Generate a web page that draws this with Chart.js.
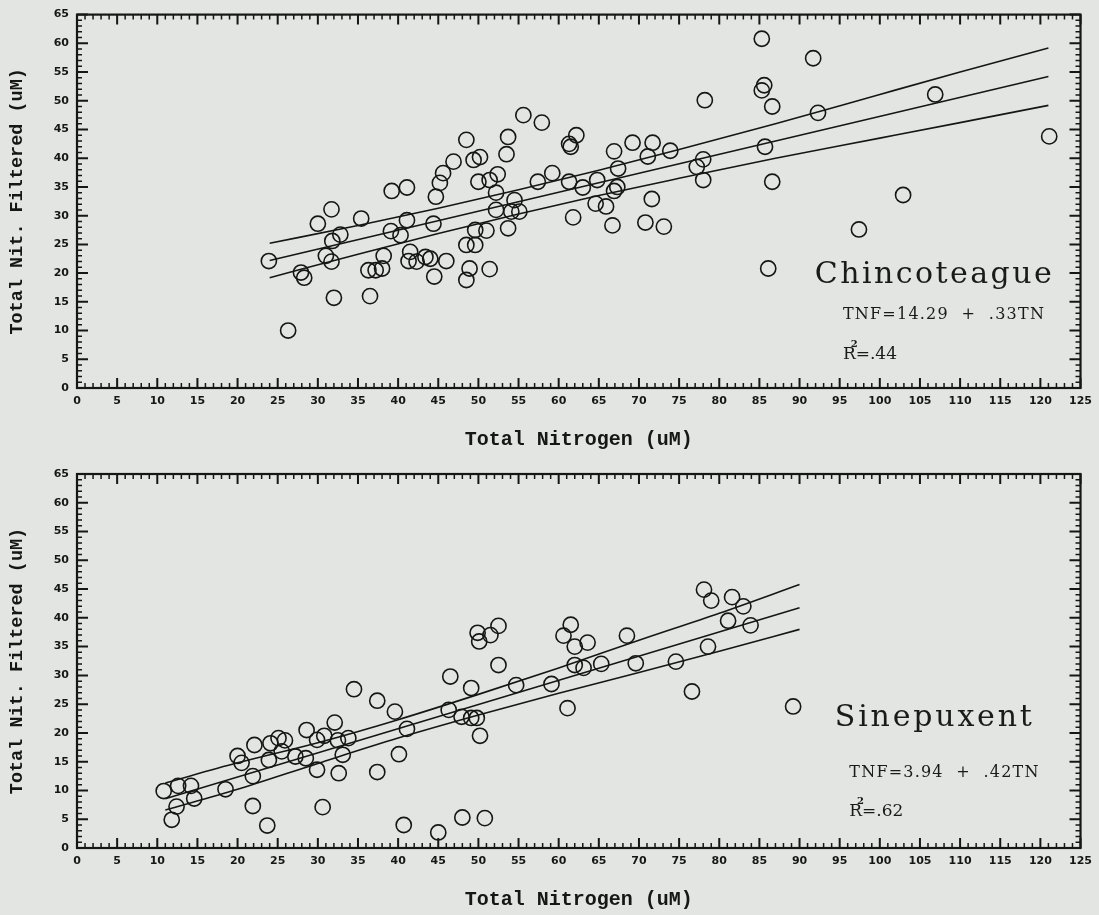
<!DOCTYPE html>
<html>
<head>
<meta charset="utf-8">
<script src="https://cdn.jsdelivr.net/npm/chart.js@4.4.1/dist/chart.umd.min.js"></script>
<style>
  html, body { margin: 0; padding: 0; background: #e3e5e2; }
  canvas { display: block; }
</style>
</head>
<body>
<canvas id="chinco" width="1099" height="457"></canvas>
<canvas id="sinep" width="1099" height="458"></canvas>
<script>
// ===== CHINCOTEAGUE SAMPLES (uM) =====
const chincoTN = [23.9, 26.3, 27.9, 28.3, 30.0, 31.7, 31.0, 31.7, 31.8, 32.8, 32.0, 35.4, 36.5, 36.3, 37.2, 38.0,
  38.2, 39.1, 39.2, 41.1, 41.1, 40.3, 44.4, 41.5, 41.3, 42.3, 43.4, 44.0, 44.5, 46.0, 48.5, 48.9, 51.4, 48.5,
  49.6, 49.6, 51.0, 53.7, 52.2, 54.1, 55.1, 44.7, 45.2, 45.6, 46.9, 48.5, 49.4, 50.2, 50.0, 51.4, 52.4, 52.2,
  53.7, 53.5, 54.5, 55.6, 57.9, 57.4, 59.2, 61.3, 62.2, 61.5, 61.3, 63.0, 61.8, 64.8, 64.6, 65.9, 66.7, 66.9,
  67.4, 67.3, 66.9, 69.2, 71.7, 71.1, 73.9, 71.6, 70.8, 73.1, 77.2, 78.0, 78.0, 78.2, 85.3, 85.6, 85.3, 86.6,
  85.7, 86.6, 86.1, 91.7, 92.3, 106.9, 102.9, 97.4, 121.1];
const chincoTNF = [22.1, 10.0, 20.1, 19.2, 28.6, 31.1, 23.0, 22.0, 25.6, 26.7, 15.7, 29.5, 16.0, 20.5, 20.5, 20.8,
  23.0, 27.3, 34.3, 34.9, 29.2, 26.6, 28.6, 23.7, 22.1, 22.0, 22.8, 22.5, 19.4, 22.1, 18.8, 20.8, 20.7, 24.9,
  24.9, 27.5, 27.4, 27.8, 31.0, 30.7, 30.7, 33.3, 35.7, 37.4, 39.4, 43.2, 39.7, 40.2, 35.9, 36.2, 37.2, 34.0,
  43.7, 40.7, 32.7, 47.5, 46.2, 35.9, 37.4, 42.5, 44.0, 42.0, 35.9, 34.9, 29.7, 36.2, 32.1, 31.6, 28.3, 41.2,
  38.2, 35.0, 34.3, 42.7, 42.7, 40.3, 41.3, 32.9, 28.8, 28.1, 38.5, 39.8, 36.2, 50.1, 60.8, 52.7, 51.8, 49.0,
  42.0, 35.9, 20.8, 57.4, 47.9, 51.1, 33.6, 27.6, 43.8];
const chincoFit = { intercept: 14.29, slope: 0.33, r2: 0.44, from: 24, to: 121 };
const chincoBandX = [24, 35, 45, 55, 65, 75, 87, 100, 110, 121];
const chincoBandHi = [25.2, 28.3, 31.3, 34.5, 37.9, 41.5, 46.0, 51.1, 55.0, 59.2];
const chincoBandLo = [19.2, 23.3, 26.9, 30.3, 33.5, 36.5, 40.0, 43.5, 46.2, 49.2];

// ===== SINEPUXENT SAMPLES (uM) =====
const sinepTN = [10.8, 12.6, 14.2, 12.4, 11.8, 14.6, 18.5, 20.0, 20.5, 22.1, 21.9, 21.9, 23.7, 23.9, 24.1, 25.1,
  25.9, 25.5, 27.2, 28.5, 28.6, 29.9, 30.8, 29.9, 30.6, 32.1, 32.5, 33.8, 33.1, 32.6, 34.5, 37.4, 37.4, 39.6,
  40.1, 41.1, 40.7, 45.0, 46.5, 46.3, 47.9, 49.1, 49.1, 49.8, 50.2, 48.0, 50.8, 52.5, 54.7, 59.1, 61.1, 62.0,
  63.1, 65.3, 69.6, 74.6, 76.6, 49.9, 50.1, 51.5, 52.5, 61.5, 60.6, 63.6, 62.0, 68.5, 78.1, 79.0, 81.6, 83.0,
  81.1, 83.9, 78.6, 89.2];
const sinepTNF = [9.9, 10.8, 10.8, 7.2, 4.9, 8.6, 10.2, 16.0, 14.8, 17.9, 12.5, 7.3, 3.9, 15.3, 18.2, 19.1,
  18.7, 16.8, 15.9, 15.6, 20.5, 18.8, 19.5, 13.6, 7.1, 21.8, 18.7, 19.1, 16.2, 13.0, 27.6, 25.6, 13.2, 23.7,
  16.3, 20.7, 4.0, 2.7, 29.8, 24.0, 22.8, 27.8, 22.6, 22.6, 19.5, 5.3, 5.2, 31.8, 28.3, 28.5, 24.3, 31.8,
  31.3, 32.0, 32.1, 32.4, 27.2, 37.4, 35.9, 37.0, 38.6, 38.8, 36.9, 35.7, 35.0, 36.9, 44.9, 43.0, 43.6, 42.0,
  39.5, 38.7, 35.0, 24.6];
const sinepFit = { intercept: 3.94, slope: 0.42, r2: 0.62, from: 11, to: 90 };
const sinepBandX = [11, 20, 30, 40, 50, 60, 70, 80, 90];
const sinepBandHi = [11.3, 14.8, 18.3, 22.3, 26.7, 31.3, 36.1, 40.8, 45.8];
const sinepBandLo = [6.6, 10.2, 14.7, 19.1, 23.1, 26.9, 30.5, 34.2, 38.0];

const xRange = [0, 125];
const yRange = [0, 65];
const tickStep = 5;

const INK = "#161616";
const TICK_FONT = { family: "DejaVu Sans", size: 11, weight: "bold" };

// frame with inward major/minor ticks on all four sides
const frameTicks = {
  id: "frameTicks",
  afterDatasetsDraw(chart) {
    const { ctx, chartArea: a, scales: { x, y } } = chart;
    ctx.save();
    ctx.strokeStyle = INK;
    ctx.lineCap = "butt";
    for (let v = x.min; v <= x.max; v++) {
      const px = x.getPixelForValue(v);
      const major = v % tickStep === 0;
      const len = major ? 10 : 5;
      ctx.lineWidth = major ? 2 : 1.5;
      ctx.beginPath();
      ctx.moveTo(px, a.bottom); ctx.lineTo(px, a.bottom - len);
      ctx.moveTo(px, a.top); ctx.lineTo(px, a.top + len);
      ctx.stroke();
    }
    for (let v = y.min; v <= y.max; v++) {
      const py = y.getPixelForValue(v);
      const major = v % tickStep === 0;
      const len = major ? 11 : 5;
      ctx.lineWidth = major ? 2 : 1.5;
      ctx.beginPath();
      ctx.moveTo(a.left, py); ctx.lineTo(a.left + len, py);
      ctx.moveTo(a.right, py); ctx.lineTo(a.right - len, py);
      ctx.stroke();
    }
    ctx.lineWidth = 2.2;
    ctx.strokeRect(a.left, a.top, a.right - a.left, a.bottom - a.top);
    ctx.restore();
  }
};

function fitText(ctx, text, x, y, width) {
  ctx.letterSpacing = "0px";
  const w = ctx.measureText(text).width;
  const sp = text.length > 1 ? (width - w) / (text.length - 1) : 0;
  ctx.letterSpacing = sp.toFixed(2) + "px";
  ctx.fillText(text, x, y);
  ctx.letterSpacing = "0px";
}

// site name, fitted equation and R squared, placed in data units
const siteNotes = {
  id: "siteNotes",
  afterDraw(chart, args, opts) {
    const { ctx, scales: { x, y } } = chart;
    const fit = opts.fit;
    ctx.save();
    ctx.fillStyle = "#1a1a1a";
    ctx.textBaseline = "alphabetic";
    ctx.textAlign = "left";

    ctx.font = "30px 'DejaVu Serif'";
    fitText(ctx, opts.name, x.getPixelForValue(opts.nameAt[0]), y.getPixelForValue(opts.nameAt[1]), opts.nameWidth);

    const eq = "TNF=" + fit.intercept.toFixed(2) + "  +  ." + Math.round(fit.slope * 100) + "TN";
    ctx.font = "16px 'DejaVu Serif'";
    const ex = x.getPixelForValue(opts.eqAt[0]);
    fitText(ctx, eq, ex, y.getPixelForValue(opts.eqAt[1]), opts.eqWidth);

    const ry = y.getPixelForValue(opts.r2At);
    ctx.font = "17px 'DejaVu Serif'";
    ctx.fillText("R", ex, ry);
    const rw = ctx.measureText("R").width;
    ctx.fillText("=." + Math.round(fit.r2 * 100), ex + rw, ry);
    ctx.font = "bold 10px 'DejaVu Serif'";
    ctx.fillText("2", ex + rw - 5, ry - 12);
    ctx.restore();
  }
};

function lineSet(xs, ys) {
  return {
    type: "line",
    data: xs.map((v, i) => ({ x: v, y: ys[i] })),
    borderColor: INK,
    borderWidth: 1.6,
    pointRadius: 0,
    fill: false,
    cubicInterpolationMode: "monotone"
  };
}

function makeChart(id, tn, tnf, fit, bandX, bandHi, bandLo, notes, pad, xHeight) {
  const fitX = [fit.from, fit.to];
  const fitY = fitX.map(v => fit.intercept + fit.slope * v);
  return new Chart(document.getElementById(id), {
    type: "scatter",
    data: {
      datasets: [
        {
          data: tn.map((v, i) => ({ x: v, y: tnf[i] })),
          pointStyle: "circle",
          pointRadius: 7.6,
          pointHoverRadius: 7.6,
          borderColor: INK,
          borderWidth: 1.6,
          backgroundColor: "rgba(0,0,0,0)"
        },
        lineSet(fitX, fitY),
        lineSet(bandX, bandHi),
        lineSet(bandX, bandLo)
      ]
    },
    options: {
      responsive: false,
      animation: false,
      events: [],
      layout: { padding: { top: pad, right: 14, left: 0, bottom: 0 } },
      plugins: {
        legend: { display: false },
        tooltip: { enabled: false },
        siteNotes: notes
      },
      scales: {
        x: {
          type: "linear",
          min: xRange[0],
          max: xRange[1],
          grid: { display: false, drawTicks: false },
          border: { display: false },
          ticks: { stepSize: tickStep, autoSkip: false, maxRotation: 0, padding: 7, color: INK, font: TICK_FONT },
          title: {
            display: true,
            text: "Total Nitrogen (uM)",
            color: INK,
            font: { family: "Liberation Mono", size: 20, weight: "bold" },
            padding: { top: 0, bottom: notes.xTitlePad }
          },
          afterFit(scale) { scale.height = xHeight; }
        },
        y: {
          type: "linear",
          min: yRange[0],
          max: yRange[1],
          grid: { display: false, drawTicks: false },
          border: { display: false },
          ticks: { stepSize: tickStep, autoSkip: false, padding: 8, color: INK, font: TICK_FONT },
          title: {
            display: true,
            text: "Total Nit. Filtered (uM)",
            color: INK,
            font: { family: "Liberation Mono", size: 18.5, weight: "bold" },
            padding: { top: 6, bottom: 0 }
          },
          afterFit(scale) { scale.width = 77; }
        }
      }
    },
    plugins: [frameTicks, siteNotes]
  });
}

makeChart("chinco", chincoTN, chincoTNF, chincoFit, chincoBandX, chincoBandHi, chincoBandLo, {
  name: "Chincoteague", nameAt: [91.9, 18.3], nameWidth: 237,
  eqAt: [95.4, 12.0], eqWidth: 201, r2At: 5.1, fit: chincoFit, xTitlePad: 5
}, 14, 69);

makeChart("sinep", sinepTN, sinepTNF, sinepFit, sinepBandX, sinepBandHi, sinepBandLo, {
  name: "Sinepuxent", nameAt: [94.4, 21.2], nameWidth: 197,
  eqAt: [96.2, 12.4], eqWidth: 189, r2At: 5.6, fit: sinepFit, xTitlePad: 3
}, 17, 67);
</script>
</body>
</html>
